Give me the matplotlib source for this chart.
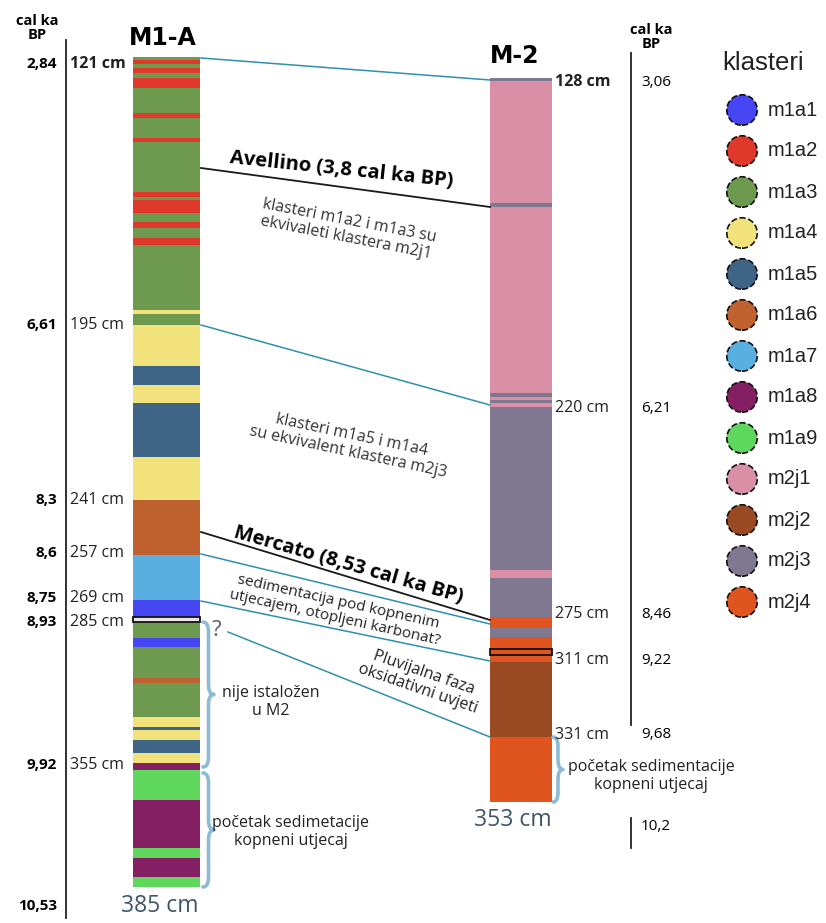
import numpy as np
import matplotlib.pyplot as plt
from matplotlib.path import Path
from matplotlib.patches import PathPatch, Rectangle

# klasteri i boje
klasteri = ["m1a1", "m1a2", "m1a3", "m1a4", "m1a5", "m1a6", "m1a7",
            "m1a8", "m1a9", "m2j1", "m2j2", "m2j3", "m2j4"]
boje = ["#4646f2", "#e0392c", "#6e9a50", "#f1e27c", "#3e6586", "#c0622f",
        "#58afe0", "#851f63", "#5fd65c", "#d990a6", "#9a4a22", "#807890",
        "#e0551f"]

# M1-A: donje granice slojeva (cm) i klaster, vrh 121 cm
m1_vrh = 121
m1_dno = [121.8, 122.9, 124.0, 125.4, 126.8, 129.6, 136.5, 137.8, 143.4, 144.5,
          158.3, 159.7, 160.5, 164.1, 166.6, 168.2, 171.0, 172.9, 190.8, 192.0,
          195.0, 205.7, 210.8, 215.5, 229.7, 241.0, 257.0, 269.0, 282.6, 286.0,
          293.7, 298.1, 313.0, 315.4, 331.9, 336.7, 338.2, 343.0, 349.3, 354.1,
          356.2, 363.6, 375.4, 377.8, 382.5, 385.0]
m1_klaster = ["m1a3", "m1a2", "m1a3", "m1a2", "m1a3", "m1a2", "m1a3", "m1a2", "m1a3", "m1a2",
              "m1a3", "m1a2", "m1a3", "m1a2", "m1a3", "m1a2", "m1a3", "m1a2", "m1a3", "m1a4",
              "m1a3", "m1a4", "m1a5", "m1a4", "m1a5", "m1a4", "m1a6", "m1a7", "m1a1", None,
              "m1a3", "m1a1", "m1a3", "m1a6", "m1a3", "m1a4", "m1a5", "m1a4", "m1a5", "m1a4",
              "m1a8", "m1a9", "m1a8", "m1a9", "m1a8", "m1a9"]
m1_granica = [(282.6, 286.0)]

# M-2
m2_vrh = 128
m2_dno = [128.8, 163.0, 164.1, 216.1, 217.2, 218.1, 218.9, 220.0, 262.7, 264.8,
          275.0, 284.2, 291.8, 301.8, 306.8, 311.5, 331.0, 353.0]
m2_klaster = ["m2j3", "m2j1", "m2j3", "m2j1", "m2j3", "m2j1", "m2j3", "m2j1", "m2j3", "m2j1",
              "m2j3", "m2j4", "m2j3", "m2j4", "m2j4", "m2j4", "m2j2", "m2j4"]
m2_granica = [(301.8, 306.8)]

# dubine s oznakama i starosti (cal ka BP)
m1_dubine = [121, 195, 241, 257, 269, 285, 355, 385]
m1_starost = ["2,84", "6,61", "8,3", "8,6", "8,75", "8,93", "9,92", "10,53"]
m2_dubine = [128, 220, 275, 311, 331, 353]
m2_starost = ["3,06", "6,21", "8,46", "9,22", "9,68", "10,2"]

# položaj dubina na slici (px od vrha) - dijagram nije u mjerilu
m1_y = [57, 325, 500, 555, 600, 620, 765, 887]
m2_y = [78, 407, 617, 660, 737, 802]
m1_oznaka_y = [64, 325, 500, 553, 598, 622, 765, 906]
m2_oznaka_y = [82, 408, 614, 660, 735, 820]

boja = dict(zip(klasteri, boje))
boja[None] = "#ebe5df"

fig = plt.figure(figsize=(8.26, 9.23), dpi=100)
ax = fig.add_axes([0, 0, 1, 1])
ax.set_xlim(0, 826)
ax.set_ylim(923, 0)
ax.axis("off")

FONT = ["Open Sans", "DejaVu Sans"]
ARIAL = ["Liberation Sans", "DejaVu Sans"]


def y1(cm):
    return np.interp(cm, m1_dubine, m1_y)


def y2(cm):
    return np.interp(cm, m2_dubine, m2_y)


def stupac(x0, x1, vrh, dno, klas, granice, fy):
    gore = np.array([vrh] + dno[:-1])
    dolje = np.array(dno)
    ax.bar((x0 + x1) / 2, fy(dolje) - fy(gore), bottom=fy(gore), width=x1 - x0,
           color=[boja[k] for k in klas], linewidth=0)
    for a, b in granice:
        ax.add_patch(Rectangle((x0, fy(a)), x1 - x0, fy(b) - fy(a),
                               fill=False, edgecolor="#111111", lw=1.3))


def zagrada(x, ya, yb, w, col="#8dbbd6"):
    ym = (ya + yb) / 2
    r = min(10, (yb - ya) / 6)
    xm = x + w / 2
    v = [(x, ya), (xm, ya), (xm, ya + r), (xm, ym - r), (xm, ym), (x + w, ym),
         (xm, ym), (xm, ym + r), (xm, yb - r), (xm, yb), (x, yb)]
    c = [Path.MOVETO, Path.CURVE3, Path.CURVE3, Path.LINETO, Path.CURVE3, Path.CURVE3,
         Path.CURVE3, Path.CURVE3, Path.LINETO, Path.CURVE3, Path.CURVE3]
    ax.add_patch(PathPatch(Path(v, c), fill=False, edgecolor=col, lw=2.6,
                           capstyle="round", joinstyle="round"))


stupac(133, 200, m1_vrh, m1_dno, m1_klaster, m1_granica, y1)
stupac(490, 552, m2_vrh, m2_dno, m2_klaster, m2_granica, y2)

# naslovi
ax.text(163, 38, "M1-A", ha="center", va="center", fontsize=17, fontweight="bold",
        family="DejaVu Sans")
ax.text(515, 56, "M-2", ha="center", va="center", fontsize=17, fontweight="bold",
        family="DejaVu Sans")
ax.text(37, 28, "cal ka\nBP", ha="center", va="center", fontsize=10.5, fontweight="bold",
        family=FONT, linespacing=1.0)
ax.text(651, 37, "cal ka\nBP", ha="center", va="center", fontsize=10.5, fontweight="bold",
        family=FONT, linespacing=1.0)

# lijeva os starosti
ax.plot([66, 66], [40, 918], color="#222222", lw=1.3)
for i, (d, s, yy) in enumerate(zip(m1_dubine, m1_starost, m1_oznaka_y)):
    ax.text(57, yy, s, ha="right", va="center", fontsize=11, fontweight="bold",
            family=FONT)
    if d == m1_dubine[-1]:
        ax.text(160, yy, f"{d} cm", ha="center", va="center", fontsize=16.5,
                color="#3f5468", family=FONT)
    else:
        w = "bold" if i == 0 else "normal"
        ax.text(70, yy, f"{d} cm", ha="left", va="center", fontsize=11.5, fontweight=w,
                family=FONT, color="#222222")

# desna os starosti
ax.plot([631, 631], [53, 725], color="#222222", lw=1.3)
ax.plot([631, 631], [818, 848], color="#222222", lw=1.3)
for i, (d, s, yy) in enumerate(zip(m2_dubine, m2_starost, m2_oznaka_y)):
    if d == m2_dubine[-1]:
        ax.text(513, yy, f"{d} cm", ha="center", va="center", fontsize=16.5,
                color="#3f5468", family=FONT)
        ax.text(641, yy + 7, s, ha="left", va="center", fontsize=11, family=FONT)
    else:
        w = "bold" if i == 0 else "normal"
        ax.text(555, yy, f"{d} cm", ha="left", va="center", fontsize=11.5,
                fontweight=w, family=FONT, color="#222222")
        ax.text(641, yy, s, ha="left", va="center", fontsize=11, family=FONT)

# korelacijske linije
teal = "#2f8fae"
ax.plot([201, 490], [y1(121) + 1, y2(128) + 2], color=teal, lw=1.1)
ax.plot([201, 490], [168, 207], color="#1a1a1a", lw=1.3)
ax.plot([201, 490], [y1(195), y2(220) - 2], color=teal, lw=1.1)
ax.plot([201, 490], [532, 620], color="#1a1a1a", lw=1.3)
ax.plot([201, 490], [y1(257) - 1, 624], color=teal, lw=1.1)
ax.plot([201, 490], [y1(269) + 1, y2(311) + 1], color=teal, lw=1.1)
ax.plot([228, 490], [632, y2(331)], color=teal, lw=1.1)

# natpisi
ax.text(341, 170, "Avellino (3,8 cal ka BP)", ha="center", va="center", rotation=-6,
        rotation_mode="anchor", fontsize=14.5, fontweight="bold", family=FONT)
ax.text(348, 229, "klasteri m1a2 i m1a3 su\nekvivaleti klastera m2j1", ha="center",
        va="center", rotation=-11, rotation_mode="anchor", fontsize=11.5, family=FONT,
        color="#333333", linespacing=1.1)
ax.text(350, 444, "klasteri m1a5 i m1a4\nsu ekvivalent klastera m2j3", ha="center",
        va="center", rotation=-12, rotation_mode="anchor", fontsize=11.5, family=FONT,
        color="#333333", linespacing=1.1)
ax.text(348, 565, "Mercato (8,53 cal ka BP)", ha="center", va="center", rotation=-16,
        rotation_mode="anchor", fontsize=14.5, fontweight="bold", family=FONT)
ax.text(337, 610, "sedimentacija pod kopnenim\nutjecajem, otopljeni karbonat?",
        ha="center", va="center", rotation=-12.5, rotation_mode="anchor", fontsize=11,
        family=FONT, color="#222222", linespacing=1.05)
ax.text(421, 681, "Pluvijalna faza\noksidativni uvjeti", ha="center", va="center",
        rotation=-19, rotation_mode="anchor", fontsize=11.5, family=FONT,
        color="#222222", linespacing=1.1)

# zagrade
zagrada(203, 622, 767, 11)
zagrada(203, 773, 887, 11)
zagrada(553, 737, 802, 10)
ax.text(217, 630, "?", ha="center", va="center", fontsize=16, color="#56606a", family=FONT)
ax.text(271, 702, "nije istaložen\nu M2", ha="center", va="center", fontsize=11.5,
        family=FONT, color="#222222", linespacing=1.2)
ax.text(291, 832, "početak sedimetacije\nkopneni utjecaj", ha="center", va="center",
        fontsize=11.5, family=FONT, color="#222222", linespacing=1.2)
ax.text(651, 776, "početak sedimentacije\nkopneni utjecaj", ha="center", va="center",
        fontsize=11.5, family=FONT, color="#222222", linespacing=1.2)

# legenda
ax.text(722, 63, "klasteri", ha="left", va="center", fontsize=18.5, family=ARIAL,
        color="#222222")
ly = 110 + 41 * np.arange(len(klasteri))
ax.scatter(np.full(len(klasteri), 742), ly, s=480, c=boje, edgecolors="#111111",
           linewidths=1.2, linestyle="--", zorder=3)
for k, yy in zip(klasteri, ly):
    ax.text(768, yy, k, ha="left", va="center", fontsize=14.5, family=ARIAL,
            color="#222222")

fig.savefig("out.png", dpi=100)
